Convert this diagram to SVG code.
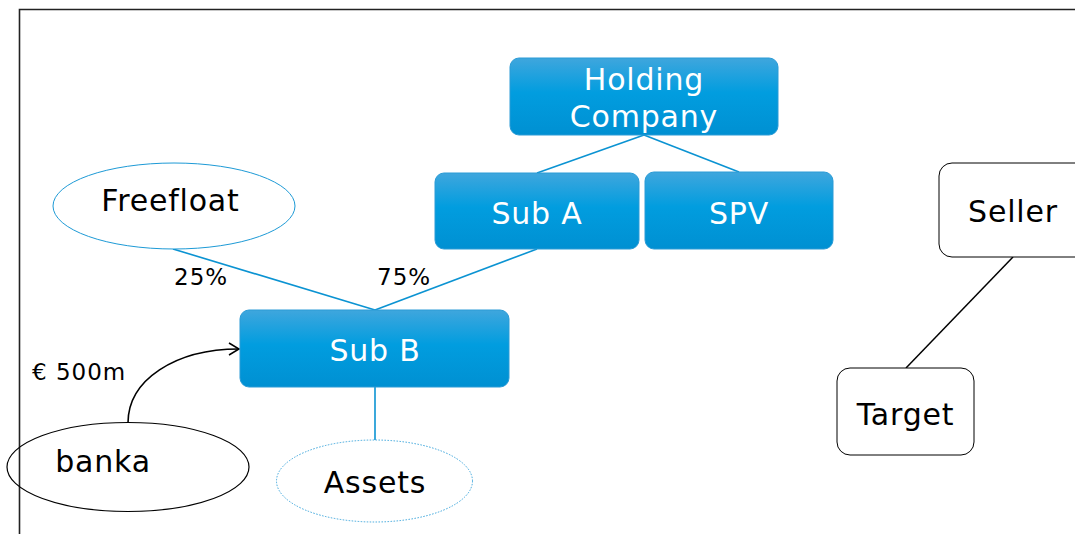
<svg xmlns="http://www.w3.org/2000/svg" width="1075" height="534" viewBox="0 0 1075 534">
<style>
.t{font-family:"DejaVu Sans","Verdana",sans-serif;font-size:30px;letter-spacing:0.8px;text-anchor:middle}
.w{fill:#ffffff}
.k{fill:#000000}
.lbl{font-family:"DejaVu Sans","Verdana",sans-serif;font-size:23px;letter-spacing:1px;fill:#000}
.box{fill:url(#g);stroke:#2a9bd6;stroke-width:1}
.wbox{fill:#fff;stroke:#000;stroke-width:1}
.bl{stroke:#0b93d2;stroke-width:1.6;fill:none}
</style>
<defs>
<linearGradient id="g" x1="0" y1="0" x2="0" y2="1">
<stop offset="0" stop-color="#3fa6dd"/>
<stop offset="0.45" stop-color="#019ddf"/>
<stop offset="1" stop-color="#0090d2"/>
</linearGradient>
<marker id="arr" markerWidth="14" markerHeight="14" refX="12" refY="7" orient="auto" markerUnits="userSpaceOnUse">
<path d="M2,1 L12,7 L2,13" fill="none" stroke="#000" stroke-width="1.5"/>
</marker>
</defs>
<rect width="1075" height="534" fill="#fff"/>
<path d="M19.5,534 V9.5 H1075" fill="none" stroke="#222" stroke-width="1.6"/>
<g id="connectors">
<line class="bl" x1="644" y1="135" x2="537" y2="173"/>
<line class="bl" x1="644" y1="135" x2="739" y2="172"/>
<line class="bl" x1="173" y1="249" x2="375" y2="310"/>
<line class="bl" x1="537" y1="249" x2="375" y2="310"/>
<line class="bl" x1="375" y1="387" x2="375" y2="440"/>
<line x1="1013" y1="257" x2="906" y2="368" stroke="#000" stroke-width="1.5"/>
<path d="M128,423 C128,380 175,349 239,349" fill="none" stroke="#000" stroke-width="1.6" marker-end="url(#arr)"/>
<text class="lbl" x="174" y="285">25%</text>
<text class="lbl" x="377" y="285">75%</text>
<text class="lbl" x="32" y="380">€ 500m</text>
</g>
<g id="holding">
<rect class="box" x="510" y="58" width="268" height="77" rx="9"/>
<text class="t w" x="644" y="90">Holding</text>
<text class="t w" x="644" y="127">Company</text>
</g>
<g id="suba">
<rect class="box" x="435" y="173" width="204" height="76" rx="9"/>
<text class="t w" x="537" y="224">Sub A</text>
</g>
<g id="spv">
<rect class="box" x="645" y="172" width="188" height="77" rx="9"/>
<text class="t w" x="739" y="224">SPV</text>
</g>
<g id="freefloat">
<ellipse cx="174" cy="206" rx="121" ry="43" fill="#fff" stroke="#1d9ad6" stroke-width="1"/>
<text class="t k" x="170.5" y="211">Freefloat</text>
</g>
<g id="subb">
<rect class="box" x="240" y="310" width="269" height="77" rx="9"/>
<text class="t w" x="375" y="361">Sub B</text>
</g>
<g id="assets">
<ellipse cx="374.5" cy="481" rx="98" ry="41" fill="#fff" stroke="#3aa5dc" stroke-width="1" stroke-dasharray="1.5,1.5"/>
<text class="t k" x="375" y="493">Assets</text>
</g>
<g id="banka">
<ellipse cx="128" cy="467" rx="121" ry="44.5" fill="none" stroke="#000" stroke-width="1.2"/>
<text class="t k" x="103" y="472">banka</text>
</g>
<g id="seller">
<rect class="wbox" x="939" y="163" width="150" height="94" rx="13"/>
<text class="t k" x="1013" y="222">Seller</text>
</g>
<g id="target">
<rect class="wbox" x="837" y="368" width="137" height="87" rx="13"/>
<text class="t k" x="905.5" y="425">Target</text>
</g>
</svg>
